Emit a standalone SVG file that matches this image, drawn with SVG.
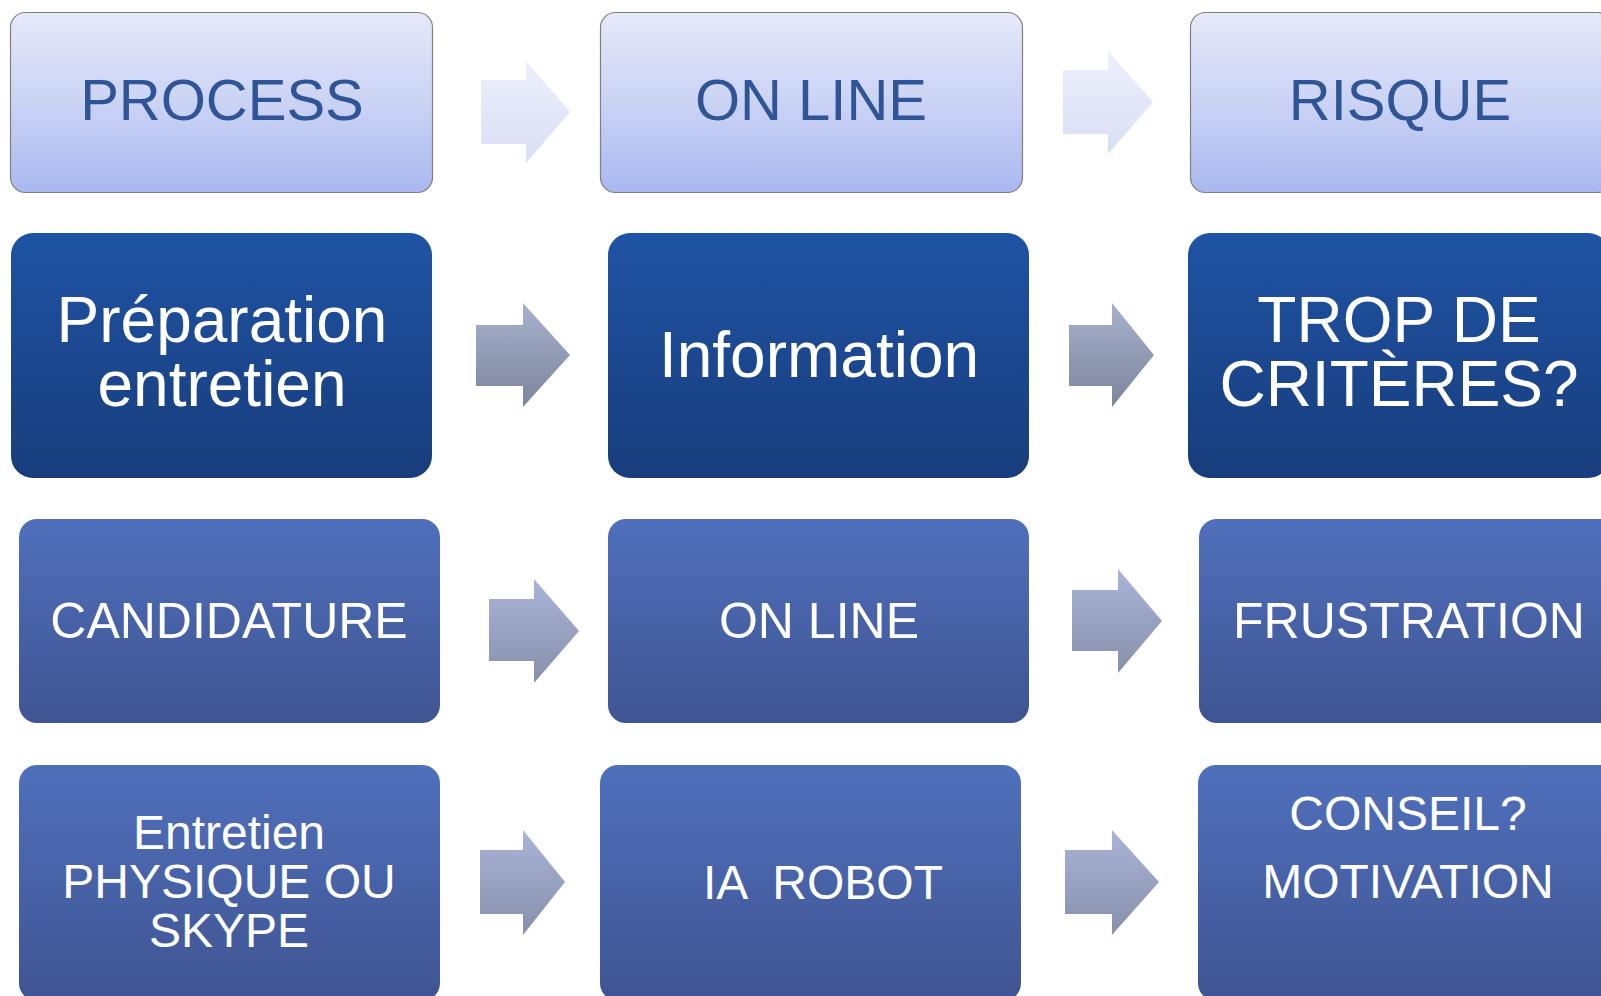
<svg xmlns="http://www.w3.org/2000/svg" width="1601" height="996" viewBox="0 0 1601 996">
  <defs>
    <linearGradient id="gLight" x1="0" y1="0" x2="0" y2="1">
      <stop offset="0" stop-color="#E6E9F9"/>
      <stop offset="0.5" stop-color="#CBD3F5"/>
      <stop offset="1" stop-color="#A9B8EF"/>
    </linearGradient>
    <linearGradient id="gDark" x1="0" y1="0" x2="0" y2="1">
      <stop offset="0" stop-color="#1F53A4"/>
      <stop offset="1" stop-color="#183D7C"/>
    </linearGradient>
    <linearGradient id="gMid" x1="0" y1="0" x2="0" y2="1">
      <stop offset="0" stop-color="#5070BC"/>
      <stop offset="1" stop-color="#3F5492"/>
    </linearGradient>
    <linearGradient id="gArrowLight" x1="0" y1="0" x2="0" y2="1">
      <stop offset="0" stop-color="#EDEFFA"/>
      <stop offset="1" stop-color="#D9DFF5"/>
    </linearGradient>
    <linearGradient id="gArrowDark" x1="0" y1="0" x2="0" y2="1">
      <stop offset="0" stop-color="#A8B1CD"/>
      <stop offset="1" stop-color="#7D859B"/>
    </linearGradient>
    <linearGradient id="gArrowMid" x1="0" y1="0" x2="0" y2="1">
      <stop offset="0" stop-color="#AAB4D8"/>
      <stop offset="1" stop-color="#878FAA"/>
    </linearGradient>
  </defs>
  <style>
    text { font-family: "Liberation Sans", Arial, sans-serif; text-anchor: middle; }
    .light { fill: url(#gLight); stroke: #808080; stroke-width: 1.2; }
    .dark { fill: url(#gDark); }
    .mid { fill: url(#gMid); }
    .t1 { fill: #2F5597; font-size: 58px; }
    .t2 { fill: #FFFFFF; font-size: 64px; }
    .t3 { fill: #FFFFFF; font-size: 50px; }
    .t4 { fill: #FFFFFF; font-size: 48px; }
    .aL { fill: url(#gArrowLight); }
    .aD { fill: url(#gArrowDark); }
    .aM { fill: url(#gArrowMid); }
  </style>

  <rect width="1601" height="996" fill="#FFFFFF"/>

  <!-- row 1: headings -->
  <g id="process">
    <rect class="light" x="10.5" y="12.5" width="422" height="180" rx="15"/>
    <text class="t1" x="222" y="120">PROCESS</text>
  </g>
  <g id="online-head">
    <rect class="light" x="600.5" y="12.5" width="422" height="180" rx="15"/>
    <text class="t1" x="811" y="120">ON LINE</text>
  </g>
  <g id="risque">
    <rect class="light" x="1190.5" y="12.5" width="422" height="180" rx="15"/>
    <text class="t1" x="1400" y="120">RISQUE</text>
  </g>

  <!-- row 2 -->
  <g id="preparation">
    <rect class="dark" x="11" y="233" width="421" height="245" rx="22"/>
    <text class="t2" x="222" y="342">Préparation</text>
    <text class="t2" x="222" y="406">entretien</text>
  </g>
  <g id="information">
    <rect class="dark" x="608" y="233" width="421" height="245" rx="22"/>
    <text class="t2" x="819" y="377">Information</text>
  </g>
  <g id="criteres">
    <rect class="dark" x="1188" y="233" width="422" height="245" rx="22"/>
    <text class="t2" x="1399" y="342">TROP DE</text>
    <text class="t2" x="1399" y="406">CRITÈRES?</text>
  </g>

  <!-- row 3 -->
  <g id="candidature">
    <rect class="mid" x="19" y="519" width="421" height="204" rx="18"/>
    <text class="t3" x="229" y="638">CANDIDATURE</text>
  </g>
  <g id="online">
    <rect class="mid" x="608" y="519" width="421" height="204" rx="18"/>
    <text class="t3" x="819" y="638">ON LINE</text>
  </g>
  <g id="frustration">
    <rect class="mid" x="1199" y="519" width="420" height="204" rx="18"/>
    <text class="t3" x="1409" y="638">FRUSTRATION</text>
  </g>

  <!-- row 4 -->
  <g id="entretien">
    <rect class="mid" x="19" y="765" width="421" height="236" rx="18"/>
    <text class="t4" x="229" y="849">Entretien</text>
    <text class="t4" x="229" y="898">PHYSIQUE OU</text>
    <text class="t4" x="229" y="947">SKYPE</text>
  </g>
  <g id="ia-robot">
    <rect class="mid" x="600" y="765" width="421" height="236" rx="18"/>
    <text class="t4" x="823" y="899" xml:space="preserve">IA  ROBOT</text>
  </g>
  <g id="conseil">
    <rect class="mid" x="1198" y="765" width="421" height="236" rx="18"/>
    <text class="t4" x="1408" y="830">CONSEIL?</text>
    <text class="t4" x="1408" y="898">MOTIVATION</text>
  </g>

  <!-- connectors: block arrows between columns -->
  <g id="connectors">
    <polygon class="aL" points="481,80 526,80 526,61 570,112 526,163 526,144 481,144"/>
    <polygon class="aL" points="1063,70 1108,70 1108,51 1153,102 1108,154 1108,134 1063,134"/>
    <polygon class="aD" points="476,325 523,325 523,303 570,355 523,407 523,386 476,386"/>
    <polygon class="aD" points="1069,325 1112,325 1112,303 1154,355 1112,407 1112,386 1069,386"/>
    <polygon class="aM" points="489,599 534,599 534,579 579,631 534,683 534,661 489,661"/>
    <polygon class="aM" points="1072,590 1118,590 1118,569 1162,621 1118,673 1118,651 1072,651"/>
    <polygon class="aM" points="480,850 523,850 523,830 565,882 523,935 523,914 480,914"/>
    <polygon class="aM" points="1065,850 1112,850 1112,830 1159,882 1112,935 1112,914 1065,914"/>
  </g>
</svg>
